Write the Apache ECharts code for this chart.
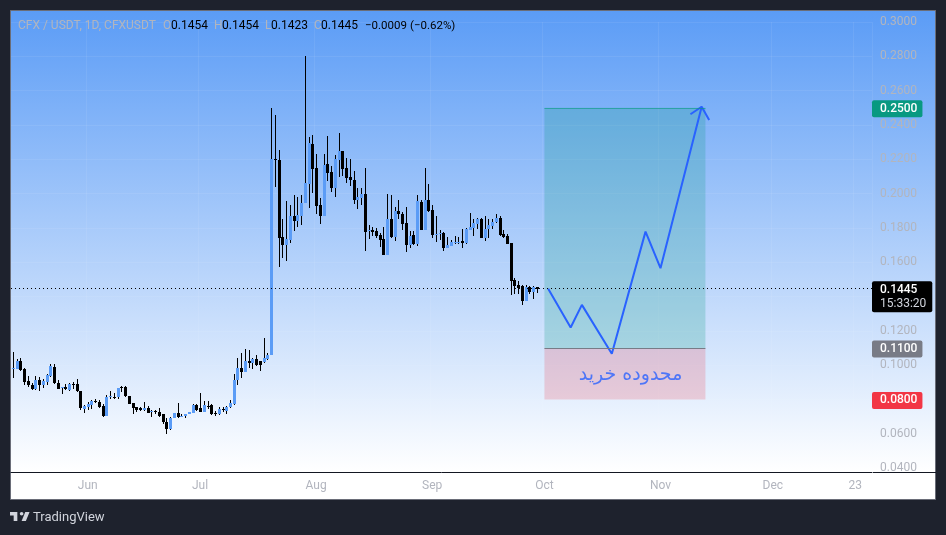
<!DOCTYPE html>
<html>
<head>
<meta charset="utf-8">
<title>CFX / USDT</title>
<style>
	html, body { margin: 0; padding: 0; background: #1e222d; }
	#chart { width: 946px; height: 535px; }
</style>
<script src="https://cdn.jsdelivr.net/npm/echarts@6/dist/echarts.min.js"></script>
</head>
<body>
<div id="chart"></div>
<script>
// daily candles, first one is May 12
var opens = [
	.0981,.0978,.1025,.0976,.0908,.0885,.0862,.0914,.0885,.0904,
	.0939,.0990,.0895,.0870,.0871,.0856,.0892,.0891,.0850,.0745,
	.0755,.0767,.0793,.0786,.0761,.0704,.0811,.0816,.0813,.0874,
	.0873,.0821,.0780,.0757,.0747,.0739,.0751,.0733,.0734,.0728,
	.0712,.0669,.0627,.0693,.0720,.0701,.0702,.0712,.0722,.0768,
	.0749,.0724,.0763,.0768,.0722,.0712,.0743,.0734,.0753,.0776,
	.0914,.0984,.0957,.1023,.1011,.1038,.1025,.1019,.1036,.1056,
	.2202,.2196,.1747,.1701,.1730,.1869,.1840,.1869,.1943,.2056,
	.2289,.2149,.1934,.1871,.2172,.2126,.2033,.2196,.2248,.2149,
	.2097,.2079,.1963,.1974,.1998,.1787,.1788,.1782,.1759,.1736,
	.1642,.1852,.1747,.1899,.1881,.1829,.1701,.1759,.1707,.1951,
	.1788,.1963,.1904,.1764,.1770,.1771,.1683,.1695,.1717,.1718,
	.1724,.1712,.1788,.1800,.1823,.1852,.1741,.1794,.1811,.1835,
	.1858,.1765,.1753,.1712,.1497,.1468,.1462,.1374,.1456,.1427,
	.1454
];
var highs = [
	.1077,.1038,.1040,.0982,.0937,.0895,.0937,.0928,.0918,.0947,
	.1007,.1007,.0914,.0875,.0889,.0895,.0904,.0918,.0850,.0768,
	.0782,.0794,.0803,.0794,.0774,.0827,.0850,.0836,.0866,.0879,
	.0879,.0821,.0780,.0757,.0755,.0786,.0763,.0739,.0739,.0751,
	.0712,.0691,.0697,.0720,.0780,.0714,.0712,.0728,.0776,.0774,
	.0838,.0792,.0788,.0772,.0734,.0755,.0753,.0759,.0796,.0947,
	.1042,.1069,.1095,.1085,.1042,.1060,.1025,.1159,.1069,.2497,
	.2458,.2254,.1852,.1957,.1934,.1992,.1978,.1992,.2802,.2328,
	.2341,.2231,.1974,.2231,.2336,.2161,.2225,.2353,.2248,.2208,
	.2202,.2132,.2033,.2033,.2149,.1817,.1806,.1800,.1772,.1806,
	.1998,.1992,.1922,.1963,.1893,.1922,.1782,.1782,.1992,.1963,
	.2149,.2053,.1934,.1870,.1788,.1776,.1747,.1730,.1753,.1747,
	.1794,.1800,.1887,.1852,.1858,.1858,.1870,.1852,.1852,.1881,
	.1870,.1788,.1765,.1712,.1508,.1491,.1468,.1468,.1462,.1462,
	.1454
];
var lows = [
	.0924,.0978,.0968,.0885,.0871,.0856,.0852,.0846,.0866,.0885,
	.0933,.0889,.0860,.0829,.0854,.0848,.0858,.0844,.0739,.0722,
	.0739,.0743,.0780,.0749,.0700,.0704,.0805,.0805,.0805,.0845,
	.0813,.0774,.0716,.0724,.0730,.0734,.0720,.0699,.0716,.0696,
	.0656,.0600,.0623,.0691,.0693,.0697,.0689,.0712,.0720,.0734,
	.0724,.0724,.0745,.0710,.0704,.0708,.0728,.0716,.0749,.0770,
	.0885,.0924,.0957,.0982,.0976,.0996,.0968,.1015,.1031,.1056,
	.2040,.1574,.1627,.1609,.1714,.1782,.1807,.1817,.1943,.1916,
	.2004,.1881,.1823,.1871,.2074,.2009,.1980,.2097,.2103,.2062,
	.2044,.1939,.1910,.1934,.1666,.1736,.1753,.1741,.1689,.1642,
	.1642,.1741,.1724,.1852,.1788,.1660,.1683,.1701,.1695,.1788,
	.1788,.1893,.1741,.1718,.1730,.1666,.1683,.1695,.1707,.1707,
	.1683,.1707,.1788,.1753,.1794,.1741,.1724,.1741,.1794,.1829,
	.1753,.1741,.1707,.1409,.1415,.1415,.1351,.1374,.1415,.1386,
	.1423
];
var closes = [
	.0983,.1025,.0972,.0904,.0881,.0862,.0914,.0881,.0908,.0943,
	.0992,.0895,.0862,.0872,.0858,.0891,.0890,.0846,.0747,.0763,
	.0774,.0792,.0791,.0757,.0704,.0813,.0821,.0814,.0866,.0872,
	.0817,.0774,.0751,.0737,.0741,.0751,.0722,.0735,.0724,.0704,
	.0666,.0629,.0693,.0720,.0697,.0703,.0712,.0728,.0768,.0737,
	.0724,.0768,.0761,.0716,.0712,.0743,.0737,.0755,.0780,.0914,
	.0984,.0959,.1023,.1013,.1038,.0998,.0998,.1042,.1060,.2202,
	.2198,.1743,.1701,.1736,.1869,.1840,.1875,.1945,.2062,.2295,
	.2143,.1928,.1869,.2167,.2120,.2033,.2202,.2248,.2143,.2091,
	.2079,.1963,.1980,.1998,.1776,.1789,.1776,.1753,.1730,.1642,
	.1852,.1747,.1899,.1881,.1823,.1701,.1753,.1707,.1957,.1788,
	.1963,.1899,.1759,.1766,.1772,.1683,.1701,.1718,.1719,.1720,
	.1712,.1794,.1805,.1829,.1852,.1741,.1794,.1817,.1835,.1858,
	.1759,.1747,.1707,.1491,.1462,.1450,.1374,.1456,.1427,.1456,
	.1445
];

// day index -> label on the time axis
var timeTicks = { 20: 'Jun', 50: 'Jul', 81: 'Aug', 112: 'Sep', 142: 'Oct', 173: 'Nov', 203: 'Dec', 225: '23' };
var dayCount = 230;

// the drawing on top: buy zone and projected path, [day index, price]
var zoneStart = 142, zoneEnd = 185;
var targetPrice = 0.25, entryPrice = 0.11, stopPrice = 0.08;
var lastPrice = 0.1445, countdown = '15:33:20';
var pathPoints = [[143, .1445], [149, .1219], [152, .1351], [160, .1066], [169, .1778], [173, .1565], [184, .2506]];
var arrowHead = [[181, .2462], [184, .2506], [186, .2429]];
var zoneLabel = 'محدوده خرید';
var zoneLabelPoint = [[165, .0944]];

var legendTexts = [
	['CFX / USDT, 1D, CFXUSDT', 18, '#b2b5be', 12],
	['O', 163, '#b2b5be', 12], ['0.1454', 171, '#000', 12],
	['H', 214, '#b2b5be', 12], ['0.1454', 222, '#000', 12],
	['L', 265, '#b2b5be', 12], ['0.1423', 271, '#000', 12],
	['C', 314, '#b2b5be', 12], ['0.1445', 321, '#000', 12],
	['−0.0009', 365, '#000', 11.5], ['(−0.62%)', 410, '#000', 11.5]
];

var font = 'Roboto, sans-serif';

var days = [];
for (var d = 0; d < dayCount; d++) {
	days.push(new Date(Date.UTC(2023, 4, 12 + d)).toISOString().slice(0, 10));
}

var candleData = [];
for (var i = 0; i < opens.length; i++) {
	candleData.push([i, opens[i], closes[i], lows[i], highs[i]]);
}

function renderCandle(params, api) {
	var x = Math.round(api.coord([api.value(0), 0])[0]);
	var open = api.value(1), close = api.value(2);
	var top = Math.round(api.coord([0, Math.max(open, close)])[1]);
	var bottom = Math.round(api.coord([0, Math.min(open, close)])[1]);
	var high = Math.round(api.coord([0, api.value(4)])[1]);
	var low = Math.round(api.coord([0, api.value(3)])[1]);
	return {
		type: 'group',
		children: [{
			type: 'rect',
			shape: { x: x, y: high, width: 1, height: Math.max(low - high, 1) },
			style: { fill: '#000' }
		}, {
			type: 'rect',
			shape: { x: x - 1, y: top, width: 3, height: Math.max(bottom - top, 1) },
			style: { fill: close >= open ? '#5b9cf6' : '#000' }
		}]
	};
}

function priceTag(value, color) {
	return {
		yAxis: value,
		lineStyle: { color: 'rgba(0,0,0,0)' },
		label: {
			show: true,
			position: 'end',
			distance: 0,
			offset: [0, 1],
			formatter: value.toFixed(4),
			color: '#fff',
			fontFamily: font,
			fontSize: 12,
			fontWeight: 500,
			backgroundColor: color,
			borderRadius: 2,
			padding: [3, 5, 2, 8]
		}
	};
}

// TradingView mark
function logoPoints(pts) {
	return pts.map(function(p) { return [8.8 + p[0] * 0.61, 508.3 + p[1] * 0.61]; });
}

var myChart = echarts.init(document.getElementById('chart'));

var graphics = [{
	type: 'rect',
	z: -10,
	shape: { x: 10.5, y: 10.5, width: 925, height: 489 },
	style: { fill: '#fff', stroke: '#6a6d78', lineWidth: 1 }
}, {
	type: 'rect',
	z: -9,
	shape: { x: 11, y: 11, width: 924, height: 461 },
	style: {
		fill: new echarts.graphic.LinearGradient(0, 0, 0, 1, [
			{ offset: 0, color: '#5b9cf6' },
			{ offset: 1, color: '#ffffff' }
		])
	}
}, {
	// axis line carries on under the price scale
	type: 'rect',
	z: 5,
	shape: { x: 873, y: 472, width: 63, height: 1 },
	style: { fill: '#131722' }
}, {
	type: 'polygon',
	z: 5,
	shape: { points: logoPoints([[2, 6], [14, 6], [14, 21], [8, 21], [8, 12], [2, 12]]) },
	style: { fill: '#d1d4dc' }
}, {
	type: 'polygon',
	z: 5,
	shape: { points: logoPoints([[27, 6], [34, 6], [28, 21], [21, 21]]) },
	style: { fill: '#d1d4dc' }
}, {
	type: 'circle',
	z: 5,
	shape: { cx: 8.8 + 21 * 0.61, cy: 508.3 + 9 * 0.61, r: 3 * 0.61 },
	style: { fill: '#d1d4dc' }
}, {
	type: 'text',
	z: 5,
	x: 33, y: 511,
	style: { text: 'TradingView', fill: '#d1d4dc', font: '13px ' + font }
}];
legendTexts.forEach(function(t) {
	graphics.push({
		type: 'text',
		z: 5,
		x: t[1], y: 20,
		style: { text: t[0], fill: t[2], font: t[3] + 'px ' + font }
	});
});

var option = {
	backgroundColor: '#1e222d',
	animation: false,
	graphic: graphics,
	grid: { left: 11, right: 74, top: 22, bottom: 67 },
	xAxis: {
		type: 'category',
		data: days,
		offset: 4,
		axisLine: { lineStyle: { color: '#131722', width: 1 } },
		axisTick: { show: false },
		axisLabel: {
			color: '#b2b5be',
			fontFamily: font,
			fontSize: 12,
			margin: 8,
			interval: function(index) { return timeTicks[index] !== undefined; },
			formatter: function(value, index) { return timeTicks[index]; }
		},
		splitLine: {
			show: true,
			interval: function(index) { return timeTicks[index] !== undefined; },
			lineStyle: { color: 'rgba(255,255,255,0.07)', width: 1 }
		}
	},
	yAxis: {
		type: 'value',
		position: 'right',
		min: 0.04,
		max: 0.3,
		interval: 0.02,
		axisLine: { show: false },
		axisTick: { show: false },
		axisLabel: {
			color: '#b2b5be',
			fontFamily: font,
			fontSize: 12,
			margin: 8,
			padding: [3, 0, 0, 0],
			formatter: function(v) { return v.toFixed(4); }
		},
		splitLine: { lineStyle: { color: 'rgba(255,255,255,0.07)', width: 1 } }
	},
	series: [{
		name: 'CFXUSDT',
		type: 'custom',
		renderItem: renderCandle,
		encode: { x: 0, y: [1, 2, 3, 4] },
		data: candleData,
		z: 3,
		markLine: {
			silent: true,
			symbol: 'none',
			animation: false,
			precision: 4,
			data: [
				priceTag(targetPrice, '#089981'),
				priceTag(entryPrice, '#787b86'),
				priceTag(stopPrice, '#f23645'),
				{
					yAxis: lastPrice,
					lineStyle: { color: '#000', type: [1, 3], width: 1 },
					label: {
						show: true,
						position: 'end',
						distance: 0,
						offset: [0, 8],
						formatter: '{a|' + lastPrice.toFixed(4) + '}\n{b|' + countdown + '}',
						backgroundColor: '#000',
						borderRadius: 2,
						padding: [2, 6, 2, 8],
						rich: {
							a: { color: '#fff', fontFamily: font, fontSize: 12, fontWeight: 500, lineHeight: 14 },
							b: { color: '#d1d4dc', fontFamily: font, fontSize: 12, lineHeight: 13 }
						}
					}
				}
			]
		}
	}, {
		name: 'path',
		type: 'line',
		data: pathPoints,
		symbol: 'none',
		z: 4,
		lineStyle: { color: '#2962ff', width: 2 },
		markArea: {
			silent: true,
			data: [
				[{ coord: [zoneStart, entryPrice], itemStyle: { color: 'rgba(8,153,129,0.22)' } }, { coord: [zoneEnd, targetPrice] }],
				[{ coord: [zoneStart, stopPrice], itemStyle: { color: 'rgba(242,54,69,0.2)' } }, { coord: [zoneEnd, entryPrice] }]
			]
		},
		markLine: {
			silent: true,
			symbol: 'none',
			precision: 4,
			label: { show: false },
			data: [
				[{ coord: [zoneStart, targetPrice], lineStyle: { color: 'rgba(8,153,129,0.6)', type: 'solid', width: 1 } }, { coord: [zoneEnd, targetPrice] }],
				[{ coord: [zoneStart, entryPrice], lineStyle: { color: '#787b86', type: 'solid', width: 1 } }, { coord: [zoneEnd, entryPrice] }]
			]
		}
	}, {
		name: 'arrow',
		type: 'line',
		data: arrowHead,
		symbol: 'none',
		z: 4,
		lineStyle: { color: '#2962ff', width: 2 }
	}, {
		name: 'zone label',
		type: 'scatter',
		data: zoneLabelPoint,
		symbolSize: 1,
		itemStyle: { color: 'rgba(0,0,0,0)' },
		z: 4,
		label: {
			show: true,
			position: 'inside',
			formatter: zoneLabel,
			color: '#2962ff',
			fontFamily: '"DejaVu Sans"',
			fontSize: 19
		}
	}]
};
myChart.setOption(option);
</script>
</body>
</html>
